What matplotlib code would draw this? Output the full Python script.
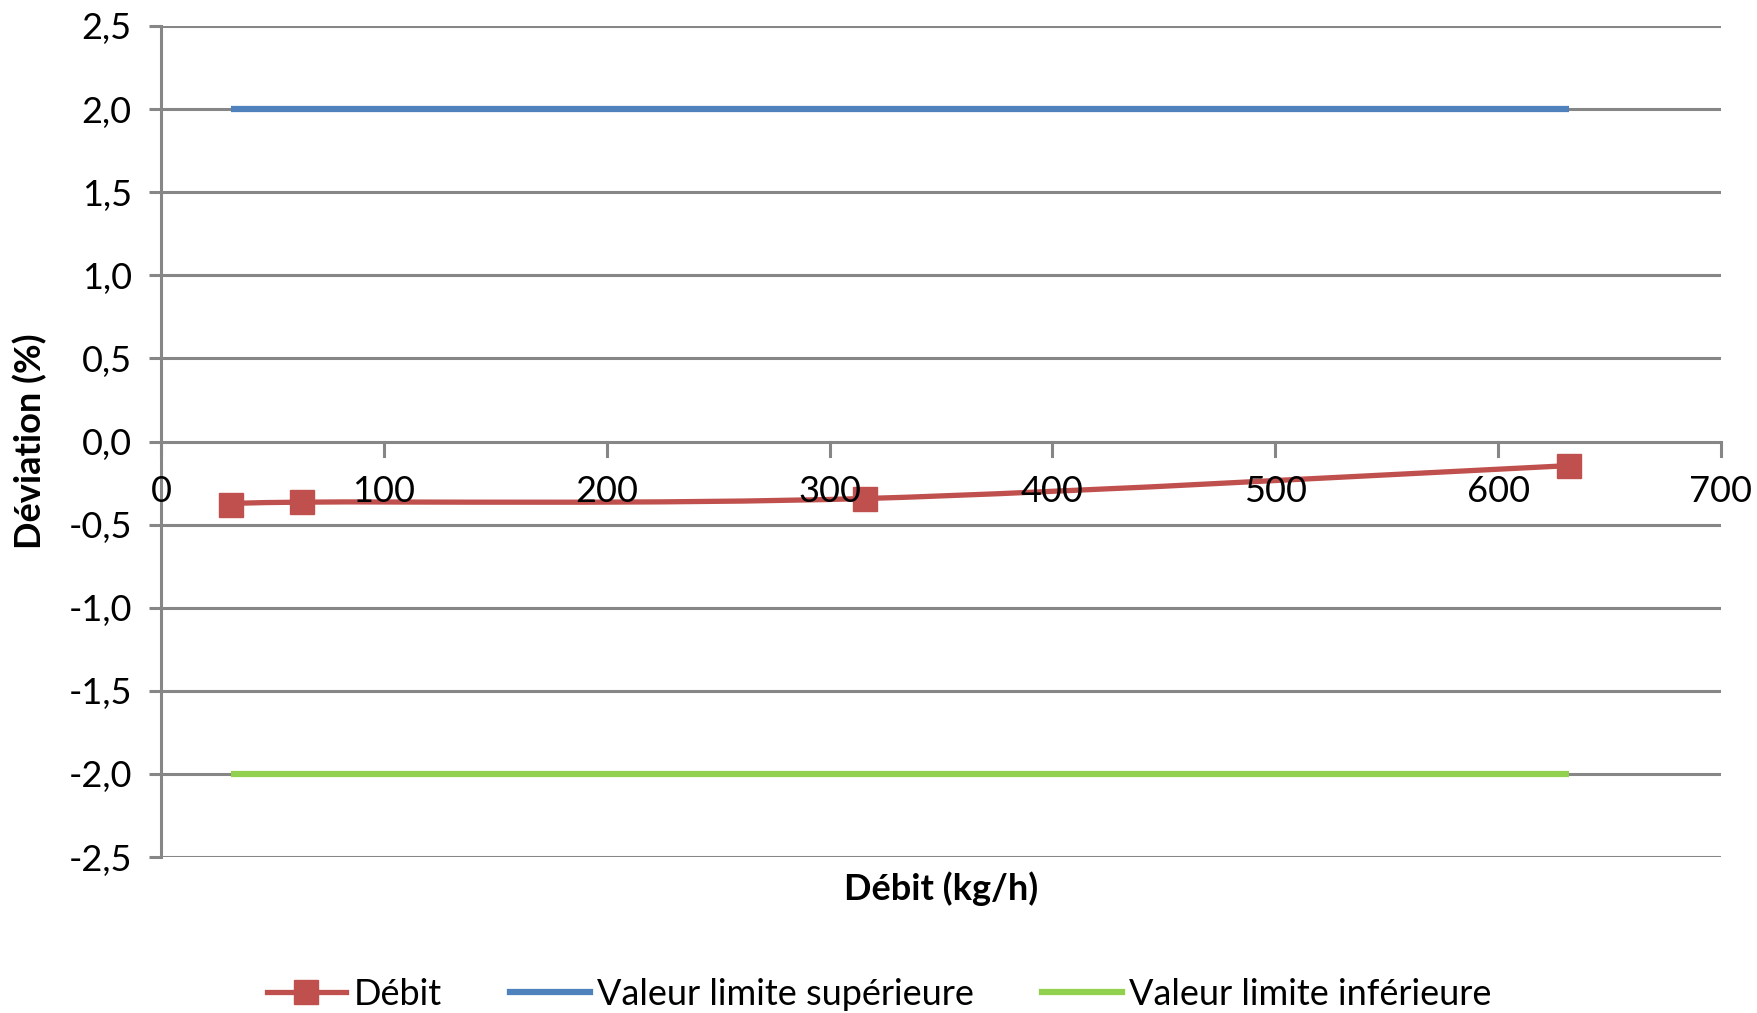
import matplotlib
matplotlib.use('Agg')
import matplotlib.pyplot as plt
from matplotlib.path import Path
from matplotlib.patches import PathPatch
from matplotlib.lines import Line2D
import numpy as np

# data
debit_x = [31.6, 63.2, 316, 632]
debit_y = [-0.38, -0.365, -0.343, -0.145]
limit_x = [31.6, 632]
limit_sup = [2.0, 2.0]
limit_inf = [-2.0, -2.0]
y_ticks = [-2.5, -2.0, -1.5, -1.0, -0.5, 0.0, 0.5, 1.0, 1.5, 2.0, 2.5]
x_ticks = [0, 100, 200, 300, 400, 500, 600, 700]

red = '#C0504D'
blue = '#4F81BD'
green = '#92D050'
grid = '#868686'

plt.rcParams['font.family'] = ['Lato', 'DejaVu Sans']

fig = plt.figure(figsize=(17.58, 10.13), dpi=100)
ax = fig.add_axes([161/1758, 1-857/1013, (1721-161)/1758, (857-26)/1013])
ax.set_xlim(0, 700)
ax.set_ylim(-2.5, 2.5)

for yv in y_ticks:
    ax.axhline(yv, color=grid, lw=2.2, zorder=1)

# smoothed line like the spreadsheet (cardinal spline through the points)
def smooth_path(xs, ys, t=1/6):
    pts = np.column_stack([xs, ys])
    verts = [pts[0]]
    codes = [Path.MOVETO]
    n = len(pts)
    for i in range(n - 1):
        p0 = pts[i - 1] if i > 0 else pts[i]
        p1 = pts[i]
        p2 = pts[i + 1]
        p3 = pts[i + 2] if i + 2 < n else pts[i + 1]
        c1 = p1 + (p2 - p0) * t
        c2 = p2 - (p3 - p1) * t
        verts += [c1, c2, p2]
        codes += [Path.CURVE4] * 3
    return Path(verts, codes)

ax.add_patch(PathPatch(smooth_path(debit_x, debit_y), fill=False, edgecolor=red, lw=3.8, zorder=4, capstyle='round'))
ax.plot(debit_x, debit_y, ls='none', marker='s', ms=17, color=red, zorder=5)
ax.plot(limit_x, limit_sup, color=blue, lw=4.5, zorder=3, solid_capstyle='butt')
ax.plot(limit_x, limit_inf, color=green, lw=4.5, zorder=3, solid_capstyle='butt')

for s in ['top', 'right', 'bottom']:
    ax.spines[s].set_visible(False)
ax.spines['left'].set_color(grid)
ax.spines['left'].set_linewidth(2.2)

ax.set_yticks(y_ticks)
ax.set_yticklabels(['{:.1f}'.format(v).replace('.', ',') for v in y_ticks], fontsize=26)
ax.tick_params(axis='y', length=9, width=2.2, color=grid, pad=12)

# x ticks sit on the zero line
ax.set_xticks([])
for xv in x_ticks:
    ax.plot([xv, xv], [0, -0.09], color=grid, lw=2.2, zorder=2, clip_on=False)
    ax.text(xv, -0.30, str(xv), ha='center', va='center', fontsize=26, zorder=6)

fig.text((161 + 1721) / 2 / 1758, 1 - 889 / 1013, 'Débit (kg/h)', ha='center', va='center',
         fontsize=26, fontweight='bold')
fig.text(30 / 1758, 1 - 441 / 1013, 'Déviation (%)', ha='center', va='center',
         fontsize=26, fontweight='bold', rotation=90)

handles = [
    Line2D([], [], color=red, lw=3.8, marker='s', ms=17),
    Line2D([], [], color=blue, lw=4.5),
    Line2D([], [], color=green, lw=4.5),
]
labels = ['Débit', 'Valeur limite supérieure', 'Valeur limite inférieure']
fig.legend(handles, labels, loc='center', bbox_to_anchor=(0.5, 1 - 994 / 1013), ncol=3,
           frameon=False, fontsize=26, handlelength=2.2, handletextpad=0.2, columnspacing=1.9)

fig.savefig('out.png', dpi=100)
